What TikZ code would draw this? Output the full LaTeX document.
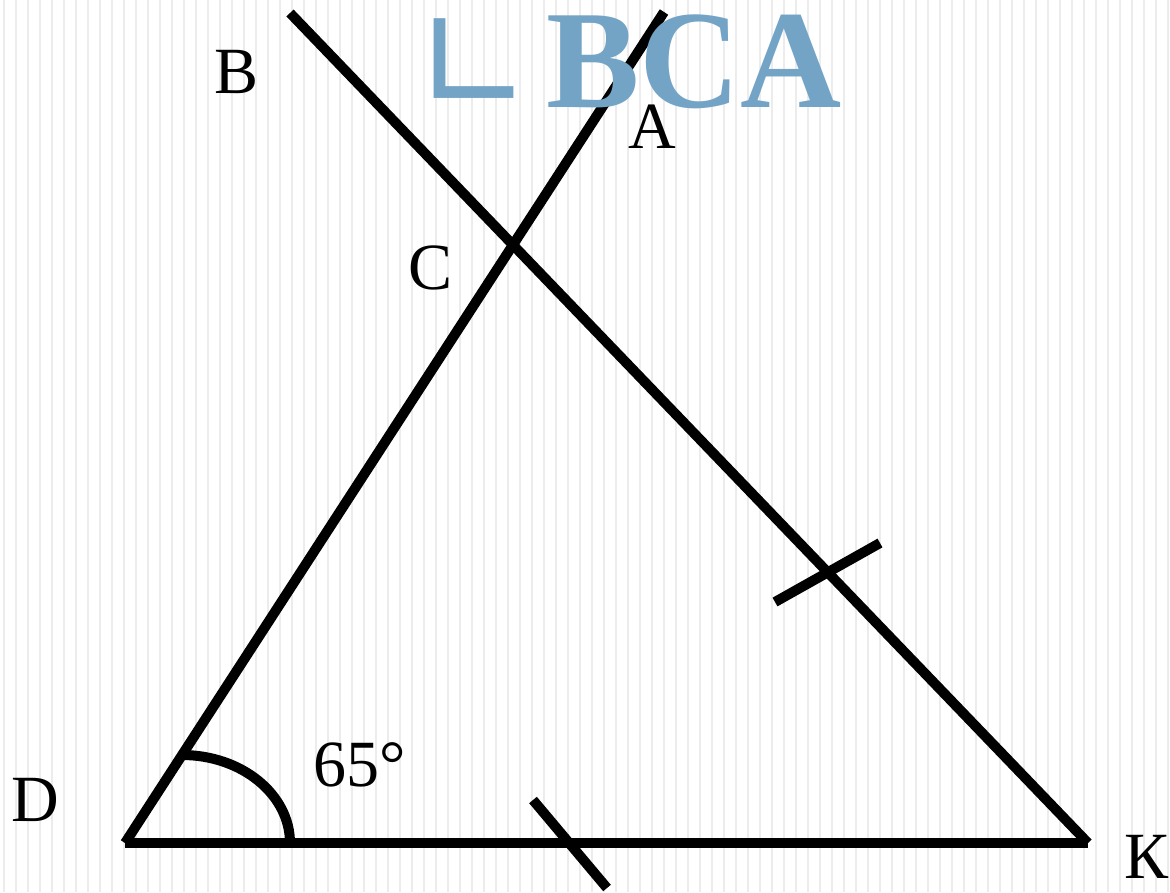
\documentclass[tikz,border=0pt]{standalone}
\usepackage{fontspec}
\setmainfont{Liberation Serif}
\newfontfamily\symfont{DejaVu Sans}
\begin{document}
\begin{tikzpicture}[x=1pt,y=-1pt,
  seg/.style={line width=10pt,black},
  lbl/.style={font=\fontsize{66}{70}\selectfont,inner sep=0pt},
  title/.style={text=titleblue,inner sep=0pt}]
\definecolor{titleblue}{HTML}{73A4C6}
\definecolor{stripe}{HTML}{ECECEC}
\useasboundingbox (0,0) rectangle (1170,892);
\fill[white] (0,0) rectangle (1170,892);
\foreach \x in {4,16,...,1170} \draw[stripe,line width=2pt] (\x,0) -- (\x,892);
% points
\coordinate (D) at (125,843);
\coordinate (K) at (1088,843);
\coordinate (C) at (513,248);
\coordinate (Atop) at (664,12);
\coordinate (Btop) at (290,13);
\coordinate (t1a) at (775,602);
\coordinate (t1b) at (880,543);
\coordinate (t2a) at (533,800);
\coordinate (t2b) at (607,888);
% lines
\draw[seg] (D) -- (K);
\draw[seg] (D) -- (Atop);
\draw[seg] (Btop) -- (K);
\draw[seg] (t1a) -- (t1b);
\draw[seg] (t2a) -- (t2b);
\draw[line width=10pt] (290,843) arc[start angle=0,end angle=-90,x radius=108,y radius=88];
% labels
\node[lbl] (lB) at (237,72) {B};
\node[lbl] (lA) at (652,127) {A};
\node[lbl] (lC) at (431,268) {C};
\node[lbl] (lD) at (35,800) {D};
\node[lbl,anchor=west] (lK) at (1124,857) {К};
\node[lbl] (l65) at (360,765) {65°};
\node[title,font=\symfont\fontsize{142}{142}\selectfont] (ang) at (474,66) {∟};
\node[title,font=\fontsize{140}{140}\selectfont\bfseries,anchor=base west] (bca) at (546,107) {BCA};
\end{tikzpicture}
\end{document}
